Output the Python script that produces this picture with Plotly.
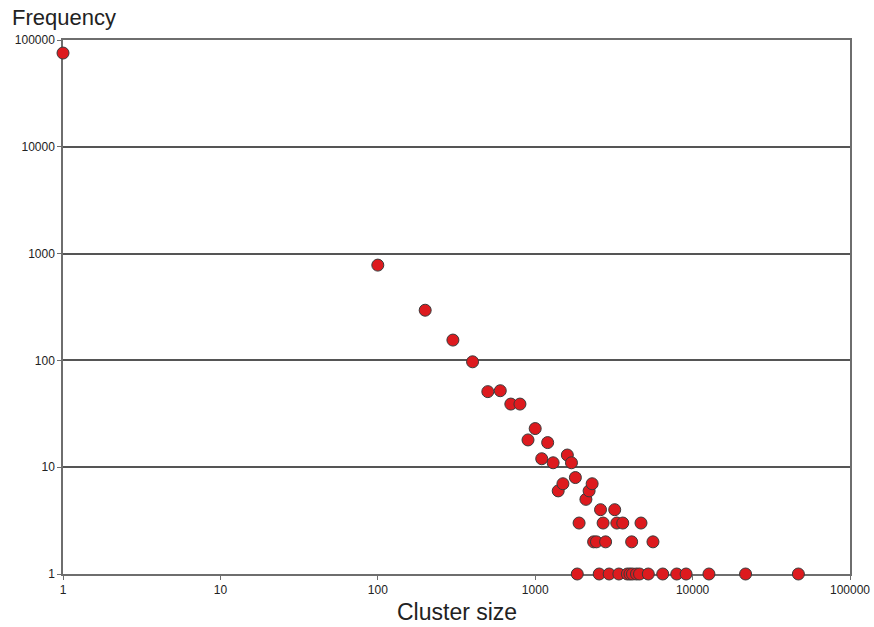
import plotly.graph_objects as go

cluster_size = [1, 100, 200, 300, 400, 500, 600, 700, 800, 900, 1000, 1100, 1200, 1300,
                1400, 1500, 1600, 1700, 1800, 1900, 2100, 2200, 2300, 2600, 3200, 2700,
                3300, 3600, 4700, 2350, 2450, 2800, 4100, 5600,
                1850, 2550, 2950, 3400, 3850, 4000, 4150, 4400, 4600, 5230, 6460,
                7930, 9090, 12700, 21700, 47000]
frequency = [75500, 780, 295, 155, 97, 51, 52, 39, 39, 18, 23, 12, 17, 11,
             6, 7, 13, 11, 8, 3, 5, 6, 7, 4, 4, 3,
             3, 3, 3, 2, 2, 2, 2, 2,
             1, 1, 1, 1, 1, 1, 1, 1, 1, 1, 1,
             1, 1, 1, 1, 1]

tick_vals = [1, 10, 100, 1000, 10000, 100000]
tick_text = ["1", "10", "100", "1000", "10000", "100000"]

FONT = "Liberation Sans, Arial, sans-serif"

fig = go.Figure()
fig.add_trace(go.Scatter(
    x=cluster_size, y=frequency, mode="markers", cliponaxis=False,
    marker=dict(size=12, color="#dd1a1e", line=dict(color="#3a3a3a", width=1)),
    showlegend=False,
))

axis_common = dict(
    type="log", range=[0, 5], tickvals=tick_vals, ticktext=tick_text,
    showline=True, linecolor="#6e6e6e", linewidth=1.5, mirror=True,
    ticks="outside", ticklen=4, tickcolor="#6e6e6e",
    tickfont=dict(family=FONT, size=12, color="#222"),
    zeroline=False, layer="below traces", automargin=False,
)

fig.update_layout(
    width=874, height=627,
    margin=dict(l=63, r=24, t=40, b=53),
    paper_bgcolor="white", plot_bgcolor="white",
    xaxis=dict(**axis_common, showgrid=False),
    yaxis=dict(**axis_common, showgrid=True, gridcolor="#555555", gridwidth=1.5),
    annotations=[
        dict(text="Frequency", xref="paper", yref="paper", x=-0.0675, y=1.0,
             xanchor="left", yanchor="middle", yshift=23, showarrow=False,
             font=dict(family=FONT, size=22, color="#222")),
        dict(text="Cluster size", xref="paper", yref="paper", x=0.5, y=0.0,
             xanchor="center", yanchor="middle", yshift=-38, showarrow=False,
             font=dict(family=FONT, size=23, color="#222")),
    ],
)

fig.write_html("out.html", config={"displayModeBar": False},
               post_script="document.body.style.margin='0';document.body.style.overflow='hidden';")
